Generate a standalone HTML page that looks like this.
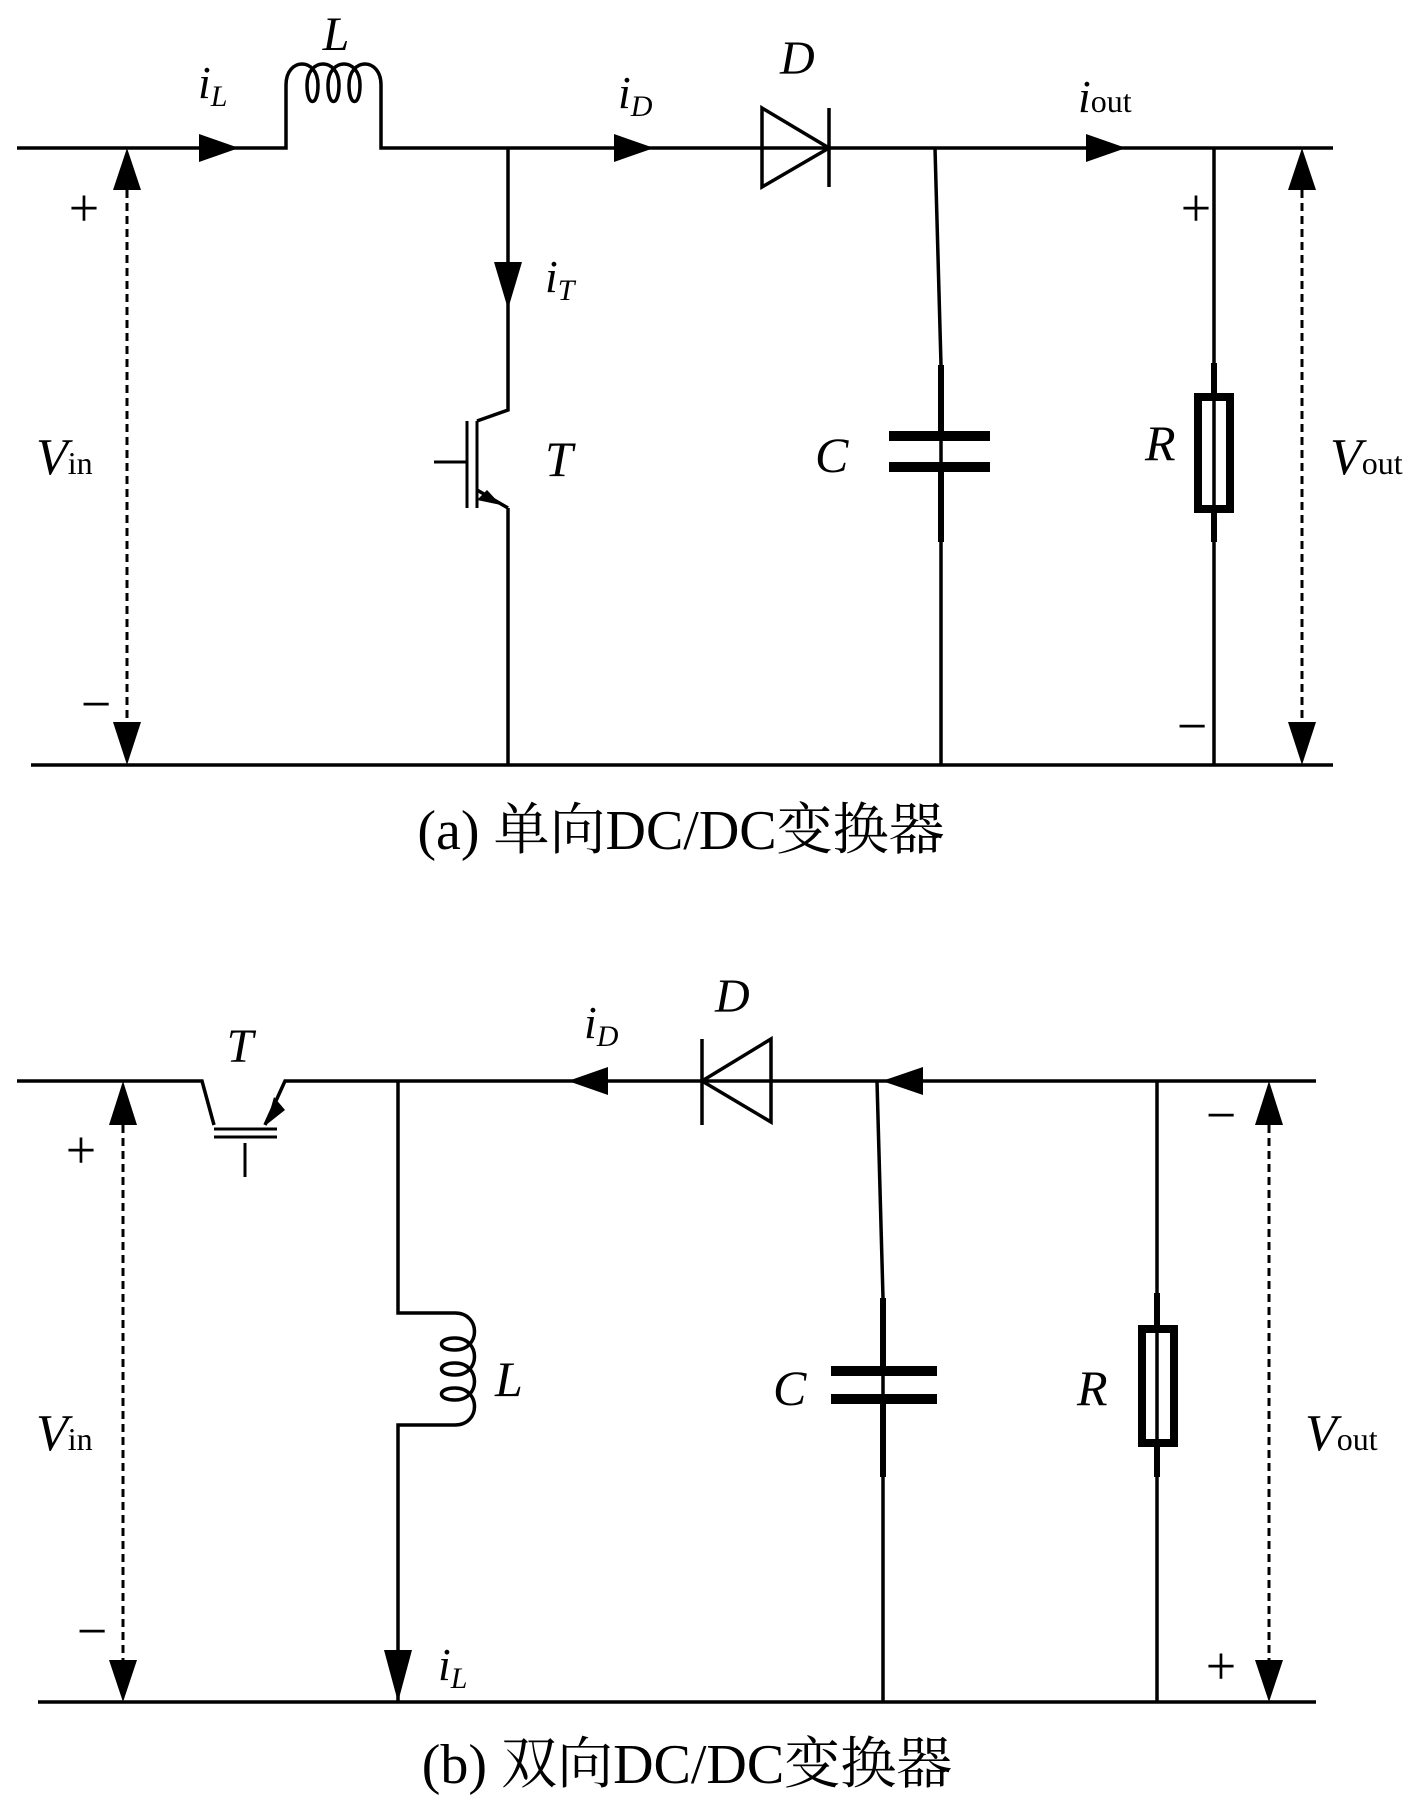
<!DOCTYPE html>
<html><head><meta charset="utf-8"><style>
html,body{margin:0;padding:0;background:#fff}
svg{display:block}
text{font-family:"Liberation Serif","Noto Serif CJK SC",serif;fill:#000}
.i{font-style:italic}
</style></head><body>
<svg width="1417" height="1807" viewBox="0 0 1417 1807" xmlns="http://www.w3.org/2000/svg">
<g stroke="#000" stroke-width="3.5" fill="none">
<!-- (a) -->
<path d="M17 148 H286 V85 M381 85 V148 H829 M829 148 H1333"/>
<path d="M286 85 C286 57 318 57 318 85 C318 107 307 107 307 85 C307 57 339 57 339 85 C339 107 328 107 328 85 C328 57 360 57 360 85 C360 107 349 107 349 85 C349 57 381 57 381 85"/>
<path d="M31 765 H1333"/>
<path d="M127 190 V725" stroke-dasharray="8,5" stroke-width="3"/>
<path d="M1302 190 V725" stroke-dasharray="8,5" stroke-width="3"/>
<path d="M508 148 V410 L477 421 M508 508 L477 490 M508 508 V765"/>
<path d="M467 421 V508 M477 421 V508 M434 462 H467" stroke-width="3"/>
<path d="M762 108 V187 L829 148 Z"/><path d="M829 108 V187"/>
<path d="M935 148 L941 365 V765"/>
<path d="M941 365 V436 M941 467 V542" stroke-width="6"/>
<path d="M889 436 H990 M889 467 H990" stroke-width="10"/>
<path d="M1214 148 V765"/>
<path d="M1214 363 V395 M1214 510 V542" stroke-width="6"/>
<rect x="1198" y="397" width="32" height="112" stroke-width="8"/>
<!-- (b) -->
<path d="M17 1081 H202 L214 1125 M265 1125 L285 1081 H1316"/>
<path d="M214 1137 H277 M214 1129 H277" stroke-width="3"/>
<path d="M245 1143 V1177" stroke-width="3"/>
<path d="M38 1702 H1316"/>
<path d="M123 1125 V1660" stroke-dasharray="8,5" stroke-width="3"/>
<path d="M1269 1125 V1660" stroke-dasharray="8,5" stroke-width="3"/>
<path d="M398 1081 V1313 H455 M455 1425 H398 V1702"/>
<path d="M455 1313 C481 1313 481 1350 455 1350 C437 1350 437 1338 455 1338 C481 1338 481 1375 455 1375 C437 1375 437 1363 455 1363 C481 1363 481 1400 455 1400 C437 1400 437 1388 455 1388 C481 1388 481 1425 455 1425"/>
<path d="M771 1039 V1122 L702 1081 Z"/><path d="M702 1039 V1125"/>
<path d="M877 1081 L883 1298 V1702"/>
<path d="M883 1298 V1371 M883 1399 V1477" stroke-width="6"/>
<path d="M831 1371 H937 M831 1399 H937" stroke-width="10"/>
<path d="M1157 1081 V1702"/>
<path d="M1157 1293 V1327 M1157 1445 V1477" stroke-width="6"/>
<rect x="1142" y="1329" width="32" height="114" stroke-width="8"/>
</g>
<g fill="#000">
<path d="M199 134 L239 148 L199 162 Z"/>
<path d="M614 134 L654 148 L614 162 Z"/>
<path d="M1086 134 L1126 148 L1086 162 Z"/>
<path d="M494 262 L508 309 L522 262 Z"/>
<path d="M477 500 L501 505 L487 490 Z"/>
<path d="M113 190 L127 148 L141 190 Z"/>
<path d="M113 722 L127 765 L141 722 Z"/>
<path d="M1288 190 L1302 148 L1316 190 Z"/>
<path d="M1288 722 L1302 765 L1316 722 Z"/>
<path d="M608 1067 L568 1081 L608 1095 Z"/>
<path d="M923 1067 L882 1081 L923 1095 Z"/>
<path d="M384 1650 L398 1702 L412 1650 Z"/>
<path d="M266 1125 L274 1097 L285 1110 Z"/>
<path d="M109 1125 L123 1081 L137 1125 Z"/>
<path d="M109 1660 L123 1702 L137 1660 Z"/>
<path d="M1255 1125 L1269 1081 L1283 1125 Z"/>
<path d="M1255 1660 L1269 1702 L1283 1660 Z"/>
</g>
<!-- labels (a) -->
<text x="336" y="50" font-size="48" class="i" text-anchor="middle">L</text>
<text x="198" y="98" font-size="46" class="i">i<tspan font-size="30" dy="8">L</tspan></text>
<text x="618" y="108" font-size="46" class="i">i<tspan font-size="30" dy="8">D</tspan></text>
<text x="780" y="74" font-size="48" class="i">D</text>
<text x="1078" y="112" font-size="46" class="i">i<tspan font-size="32" font-style="normal">out</tspan></text>
<text x="545" y="292" font-size="46" class="i">i<tspan font-size="30" dy="8">T</tspan></text>
<text x="545" y="476" font-size="50" class="i">T</text>
<text x="815" y="472" font-size="50" class="i">C</text>
<text x="1145" y="460" font-size="50" class="i">R</text>
<text x="36" y="474" font-size="52" class="i">V<tspan font-size="32" font-style="normal">in</tspan></text>
<text x="1330" y="474" font-size="52" class="i">V<tspan font-size="32" font-style="normal">out</tspan></text>
<text x="84" y="226" font-size="54" text-anchor="middle">+</text>
<text x="96" y="722" font-size="54" text-anchor="middle">−</text>
<text x="1196" y="226" font-size="54" text-anchor="middle">+</text>
<text x="1192" y="744" font-size="54" text-anchor="middle">−</text>
<text x="681" y="849" font-size="56" text-anchor="middle">(a) 单向DC/DC变换器</text>
<!-- labels (b) -->
<text x="240" y="1062" font-size="48" class="i" text-anchor="middle">T</text>
<text x="715" y="1012" font-size="48" class="i">D</text>
<text x="584" y="1038" font-size="46" class="i">i<tspan font-size="30" dy="8">D</tspan></text>
<text x="438" y="1680" font-size="46" class="i">i<tspan font-size="30" dy="8">L</tspan></text>
<text x="495" y="1396" font-size="50" class="i">L</text>
<text x="773" y="1405" font-size="50" class="i">C</text>
<text x="1077" y="1405" font-size="50" class="i">R</text>
<text x="36" y="1450" font-size="52" class="i">V<tspan font-size="32" font-style="normal">in</tspan></text>
<text x="1305" y="1450" font-size="52" class="i">V<tspan font-size="32" font-style="normal">out</tspan></text>
<text x="81" y="1168" font-size="54" text-anchor="middle">+</text>
<text x="92" y="1649" font-size="54" text-anchor="middle">−</text>
<text x="1221" y="1133" font-size="54" text-anchor="middle">−</text>
<text x="1221" y="1684" font-size="54" text-anchor="middle">+</text>
<text x="687" y="1783" font-size="56" text-anchor="middle">(b) 双向DC/DC变换器</text>
</svg>
</body></html>
